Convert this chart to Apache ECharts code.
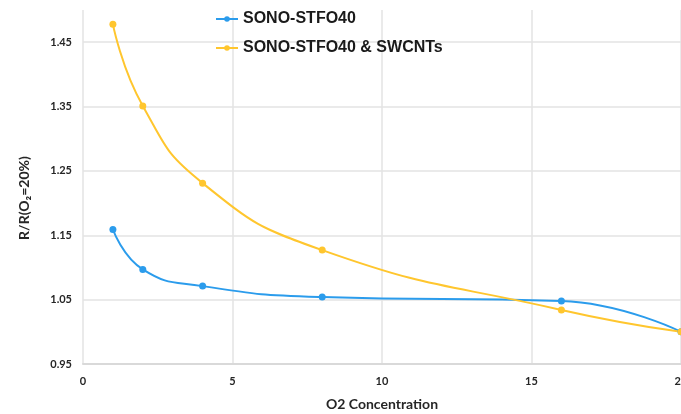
<!DOCTYPE html>
<html>
<head>
<meta charset="utf-8">
<script src="https://cdn.jsdelivr.net/npm/echarts@6/dist/echarts.min.js"></script>
<style>
html,body{margin:0;padding:0;background:#fff;}
#chart{width:681px;height:414px;}
</style>
</head>
<body>
<div id="chart"></div>
<script>
const o2Concentration = [1, 2, 4, 8, 16, 20];
const sonoStfo40 = [1.159, 1.097, 1.071, 1.054, 1.048, 1.0];
const sonoStfo40Swcnts = [1.478, 1.351, 1.231, 1.127, 1.034, 1.0];
const seriesNames = ['SONO-STFO40', 'SONO-STFO40 & SWCNTs'];
const xTitle = 'O2 Concentration';
const yTitle = 'R/R(O\u2082=20%)';

const pairs = (xs, ys) => xs.map((x, i) => [x, ys[i]]);
const blue = '#2b9cec';
const gold = '#ffc62e';

const chart = echarts.init(document.getElementById('chart'));
chart.setOption({
  animation: false,
  backgroundColor: '#ffffff',
  grid: { left: 83, right: 0, top: 10, bottom: 50, containLabel: false, outerBoundsMode: 'none' },
  legend: {
    orient: 'vertical',
    left: 215,
    top: 11,
    padding: 0,
    itemWidth: 22,
    itemHeight: 7,
    itemGap: 13,
    textStyle: { fontFamily: 'Liberation Sans', fontWeight: 'bold', fontSize: 16, color: '#1a1a1a' },
    data: seriesNames
  },
  xAxis: {
    type: 'value',
    min: 0, max: 20, interval: 5,
    name: xTitle,
    nameLocation: 'middle',
    nameGap: 33,
    nameTextStyle: { fontFamily: 'Lato', fontWeight: 'bold', fontSize: 14, color: '#262626' },
    axisLine: { show: true, lineStyle: { color: '#d9d9d9', width: 2 } },
    axisTick: { show: false },
    axisLabel: { margin: 12, fontFamily: 'Lato', fontWeight: 'bold', fontSize: 11, color: '#262626' },
    splitLine: { show: true, lineStyle: { color: '#e3e3e3', width: 1.5 } }
  },
  yAxis: {
    type: 'value',
    min: 0.95, max: 1.5, interval: 0.1,
    name: yTitle,
    nameLocation: 'middle',
    nameGap: 52,
    nameRotate: 90,
    nameTextStyle: { fontFamily: 'Lato', fontWeight: 'bold', fontSize: 14, color: '#262626', padding: [0, 22, 0, 0] },
    axisLine: { show: false },
    axisTick: { show: false },
    axisLabel: {
      margin: 11, fontFamily: 'Lato', fontWeight: 'bold', fontSize: 11, color: '#262626',
      showMaxLabel: false,
      formatter: v => v.toFixed(2)
    },
    splitLine: { show: true, showMaxLine: false, lineStyle: { color: '#e3e3e3', width: 1.5 } }
  },
  series: [
    {
      name: seriesNames[0],
      type: 'line',
      smooth: 0.5,
      symbol: 'circle',
      symbolSize: 7,
      clip: false,
      itemStyle: { color: blue },
      lineStyle: { color: blue, width: 2 },
      data: pairs(o2Concentration, sonoStfo40)
    },
    {
      name: seriesNames[1],
      type: 'line',
      smooth: 0.5,
      symbol: 'circle',
      symbolSize: 7,
      clip: false,
      itemStyle: { color: gold },
      lineStyle: { color: gold, width: 2 },
      data: pairs(o2Concentration, sonoStfo40Swcnts)
    }
  ]
});
</script>
</body>
</html>
